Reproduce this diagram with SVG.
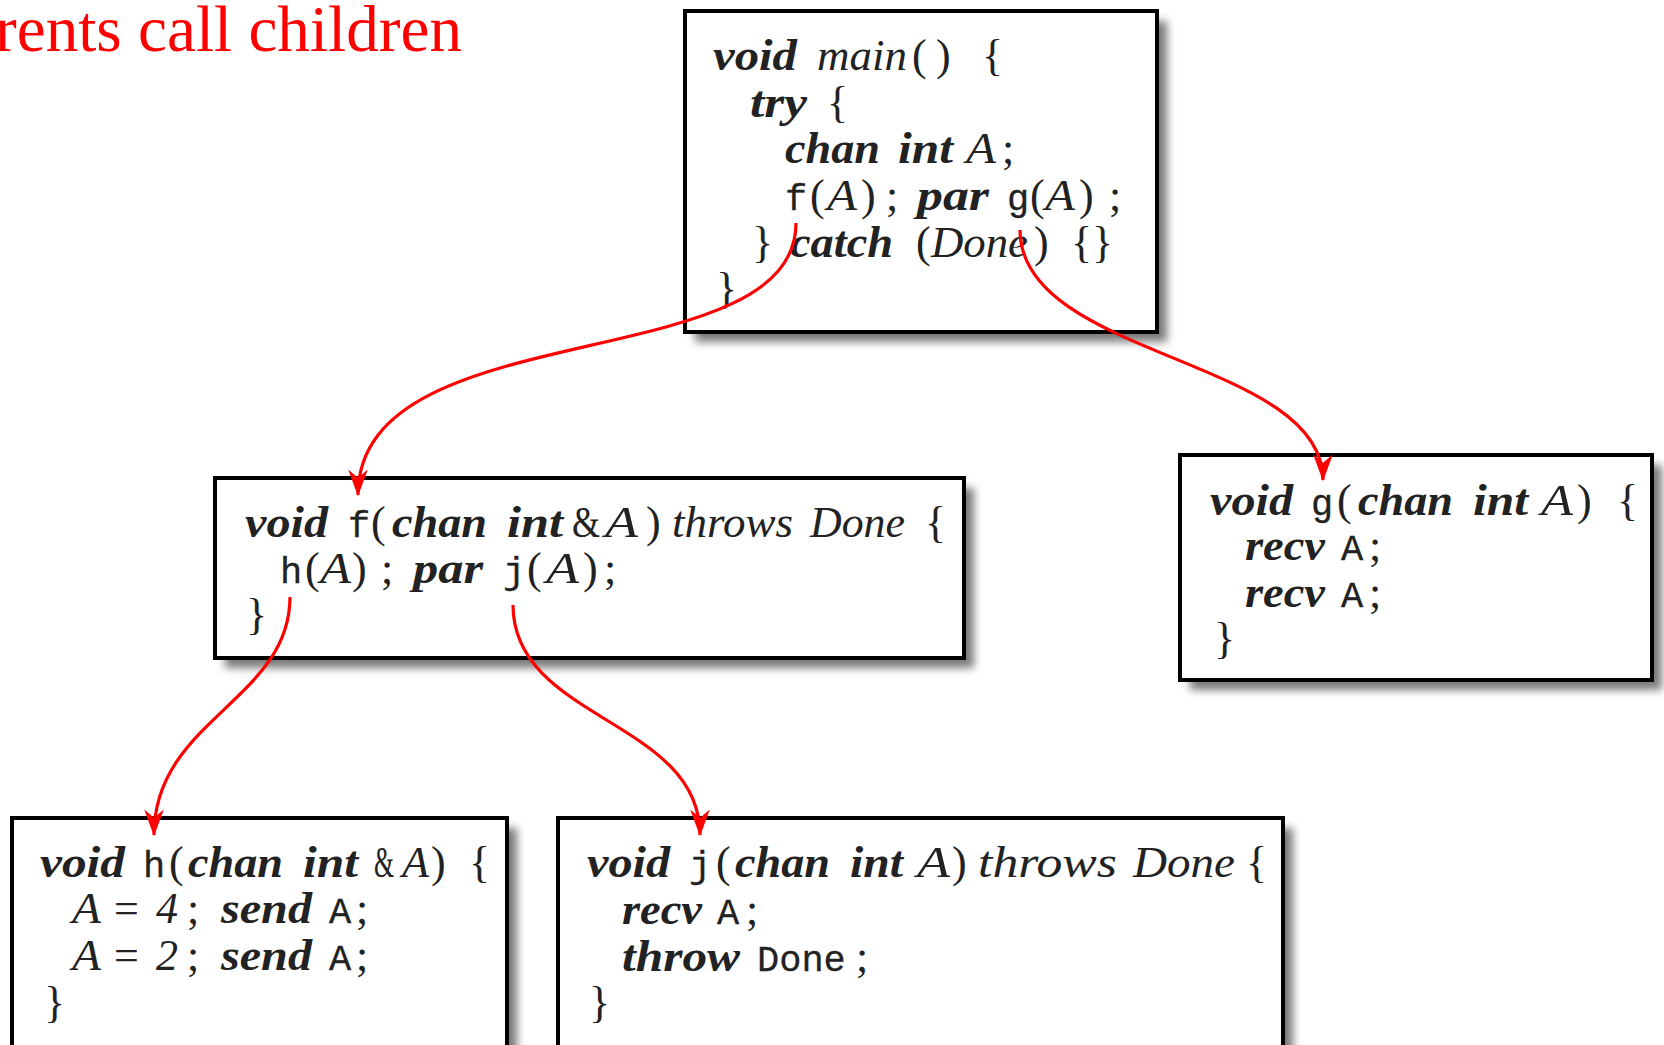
<svg xmlns="http://www.w3.org/2000/svg" width="1664" height="1045" viewBox="0 0 1664 1045">
<defs>
<filter id="sh" x="-10%" y="-10%" width="120%" height="130%"><feGaussianBlur stdDeviation="4"/></filter>
<marker id="ah" markerUnits="userSpaceOnUse" markerWidth="30" markerHeight="24" refX="0" refY="0" viewBox="-24 -10 26 20" orient="auto" overflow="visible">
<path d="M1,0 L-22,-8.5 L-15,0 L-22,8.5 Z" fill="#ff0000"/>
</marker>
</defs>
<style>
.box{fill:#fff;stroke:#000;stroke-width:4}
.shadow{fill:#7a7a7a;filter:url(#sh)}
.code{font-family:"Liberation Serif",serif;font-size:44px;fill:#222}
.bi{font-style:italic;font-weight:bold}
.it{font-style:italic}
.m{font-family:"Liberation Mono",monospace;font-size:37px;stroke:#222;stroke-width:0.3}
.conn{fill:none;stroke:#ff0000;stroke-width:3.2;marker-end:url(#ah)}
.title{font-family:"Liberation Serif",serif;font-size:65px;fill:#ff0000}
</style>
<rect width="1664" height="1045" fill="#fff"/>
<text class="title" x="-5" y="51" textLength="467" lengthAdjust="spacingAndGlyphs">rents call children</text>

<g id="main">
<rect class="shadow" x="695" y="21" width="472" height="321"/>
<rect class="box" x="685" y="11" width="472" height="321"/>
<text class="code" y="70"><tspan x="713" class="bi" textLength="84" lengthAdjust="spacingAndGlyphs">void</tspan><tspan x="817" class="it" textLength="90" lengthAdjust="spacingAndGlyphs">main</tspan><tspan x="912">(</tspan><tspan x="936">)</tspan><tspan x="982">{</tspan></text>
<text class="code" y="117"><tspan x="750" class="bi" textLength="57" lengthAdjust="spacingAndGlyphs">try</tspan><tspan x="827">{</tspan></text>
<text class="code" y="163"><tspan x="785" class="bi" textLength="95" lengthAdjust="spacingAndGlyphs">chan</tspan><tspan x="898" class="bi" textLength="55" lengthAdjust="spacingAndGlyphs">int</tspan><tspan x="966" class="it" textLength="30" lengthAdjust="spacingAndGlyphs">A</tspan><tspan x="1002">;</tspan></text>
<text class="code" y="210"><tspan x="785" class="m">f</tspan><tspan x="810">(</tspan><tspan x="827" class="it" textLength="30" lengthAdjust="spacingAndGlyphs">A</tspan><tspan x="861">)</tspan><tspan x="886">;</tspan><tspan x="917" class="bi" textLength="72" lengthAdjust="spacingAndGlyphs">par</tspan><tspan x="1007" class="m">g</tspan><tspan x="1030">(</tspan><tspan x="1045" class="it" textLength="30" lengthAdjust="spacingAndGlyphs">A</tspan><tspan x="1079">)</tspan><tspan x="1109">;</tspan></text>
<text class="code" y="257"><tspan x="752">}</tspan><tspan x="790" class="bi" textLength="103" lengthAdjust="spacingAndGlyphs">catch</tspan><tspan x="916">(</tspan><tspan x="931" class="it" textLength="97" lengthAdjust="spacingAndGlyphs">Done</tspan><tspan x="1034">)</tspan><tspan x="1071">{}</tspan></text>
<text class="code" y="303" x="716">}</text>
</g>

<g id="f">
<rect class="shadow" x="225" y="488" width="749" height="180"/>
<rect class="box" x="215" y="478" width="749" height="180"/>
<text class="code" y="537"><tspan x="245" class="bi" textLength="83" lengthAdjust="spacingAndGlyphs">void</tspan><tspan x="348" class="m">f</tspan><tspan x="371">(</tspan><tspan x="392" class="bi" textLength="95" lengthAdjust="spacingAndGlyphs">chan</tspan><tspan x="507" class="bi" textLength="56" lengthAdjust="spacingAndGlyphs">int</tspan><tspan x="572" textLength="28" lengthAdjust="spacingAndGlyphs">&amp;</tspan><tspan x="605" class="it" textLength="33" lengthAdjust="spacingAndGlyphs">A</tspan><tspan x="646">)</tspan><tspan x="672" class="it" textLength="121" lengthAdjust="spacingAndGlyphs">throws</tspan><tspan x="810" class="it" textLength="95" lengthAdjust="spacingAndGlyphs">Done</tspan><tspan x="925">{</tspan></text>
<text class="code" y="583"><tspan x="280" class="m">h</tspan><tspan x="305">(</tspan><tspan x="320" class="it" textLength="31" lengthAdjust="spacingAndGlyphs">A</tspan><tspan x="352">)</tspan><tspan x="381">;</tspan><tspan x="413" class="bi" textLength="70" lengthAdjust="spacingAndGlyphs">par</tspan><tspan x="503" class="m">j</tspan><tspan x="527">(</tspan><tspan x="546" class="it" textLength="33" lengthAdjust="spacingAndGlyphs">A</tspan><tspan x="583">)</tspan><tspan x="604">;</tspan></text>
<text class="code" x="246" y="629">}</text>
</g>

<g id="g">
<rect class="shadow" x="1190" y="465" width="472" height="225"/>
<rect class="box" x="1180" y="455" width="472" height="225"/>
<text class="code" y="515"><tspan x="1210" class="bi" textLength="83" lengthAdjust="spacingAndGlyphs">void</tspan><tspan x="1311" class="m">g</tspan><tspan x="1337">(</tspan><tspan x="1358" class="bi" textLength="95" lengthAdjust="spacingAndGlyphs">chan</tspan><tspan x="1473" class="bi" textLength="55" lengthAdjust="spacingAndGlyphs">int</tspan><tspan x="1541" class="it" textLength="32" lengthAdjust="spacingAndGlyphs">A</tspan><tspan x="1577">)</tspan><tspan x="1617">{</tspan></text>
<text class="code" y="560"><tspan x="1245" class="bi" textLength="80" lengthAdjust="spacingAndGlyphs">recv</tspan><tspan x="1341" class="m">A</tspan><tspan x="1369">;</tspan></text>
<text class="code" y="607"><tspan x="1245" class="bi" textLength="80" lengthAdjust="spacingAndGlyphs">recv</tspan><tspan x="1341" class="m">A</tspan><tspan x="1369">;</tspan></text>
<text class="code" x="1214" y="653">}</text>
</g>

<g id="h">
<rect class="shadow" x="22" y="828" width="495" height="260"/>
<rect class="box" x="12" y="818" width="495" height="260"/>
<text class="code" y="877"><tspan x="40" class="bi" textLength="85" lengthAdjust="spacingAndGlyphs">void</tspan><tspan x="143" class="m">h</tspan><tspan x="169">(</tspan><tspan x="188" class="bi" textLength="95" lengthAdjust="spacingAndGlyphs">chan</tspan><tspan x="303" class="bi" textLength="55" lengthAdjust="spacingAndGlyphs">int</tspan><tspan x="374" textLength="20" lengthAdjust="spacingAndGlyphs">&amp;</tspan><tspan x="402" class="it" textLength="27" lengthAdjust="spacingAndGlyphs">A</tspan><tspan x="431">)</tspan><tspan x="469">{</tspan></text>
<text class="code" y="923"><tspan x="72" class="it" textLength="29" lengthAdjust="spacingAndGlyphs">A</tspan><tspan x="114">=</tspan><tspan x="156" class="it">4</tspan><tspan x="187">;</tspan><tspan x="221" class="bi" textLength="91" lengthAdjust="spacingAndGlyphs">send</tspan><tspan x="329" class="m">A</tspan><tspan x="356">;</tspan></text>
<text class="code" y="970"><tspan x="72" class="it" textLength="29" lengthAdjust="spacingAndGlyphs">A</tspan><tspan x="114">=</tspan><tspan x="156" class="it">2</tspan><tspan x="187">;</tspan><tspan x="221" class="bi" textLength="91" lengthAdjust="spacingAndGlyphs">send</tspan><tspan x="329" class="m">A</tspan><tspan x="356">;</tspan></text>
<text class="code" x="44" y="1017">}</text>
</g>

<g id="j">
<rect class="shadow" x="568" y="828" width="725" height="260"/>
<rect class="box" x="558" y="818" width="725" height="260"/>
<text class="code" y="877"><tspan x="587" class="bi" textLength="83" lengthAdjust="spacingAndGlyphs">void</tspan><tspan x="689" class="m">j</tspan><tspan x="716">(</tspan><tspan x="735" class="bi" textLength="95" lengthAdjust="spacingAndGlyphs">chan</tspan><tspan x="850" class="bi" textLength="53" lengthAdjust="spacingAndGlyphs">int</tspan><tspan x="917" class="it" textLength="33" lengthAdjust="spacingAndGlyphs">A</tspan><tspan x="952">)</tspan><tspan x="978" class="it" textLength="139" lengthAdjust="spacingAndGlyphs">throws</tspan><tspan x="1133" class="it" textLength="102" lengthAdjust="spacingAndGlyphs">Done</tspan><tspan x="1246">{</tspan></text>
<text class="code" y="924"><tspan x="622" class="bi" textLength="80" lengthAdjust="spacingAndGlyphs">recv</tspan><tspan x="717" class="m">A</tspan><tspan x="746">;</tspan></text>
<text class="code" y="971"><tspan x="622" class="bi" textLength="118" lengthAdjust="spacingAndGlyphs">throw</tspan><tspan x="757" class="m">Done</tspan><tspan x="856">;</tspan></text>
<text class="code" x="589" y="1017">}</text>
</g>

<g id="connectors">
<path class="conn" d="M796,223 C796,380 358,310 358,495"/>
<path class="conn" d="M1020,230 C1020,358 1323,358 1323,480"/>
<path class="conn" d="M290,597 C290,700 154,720 154,835"/>
<path class="conn" d="M513,605 C513,720 700,720 700,835"/>
</g>
</svg>
